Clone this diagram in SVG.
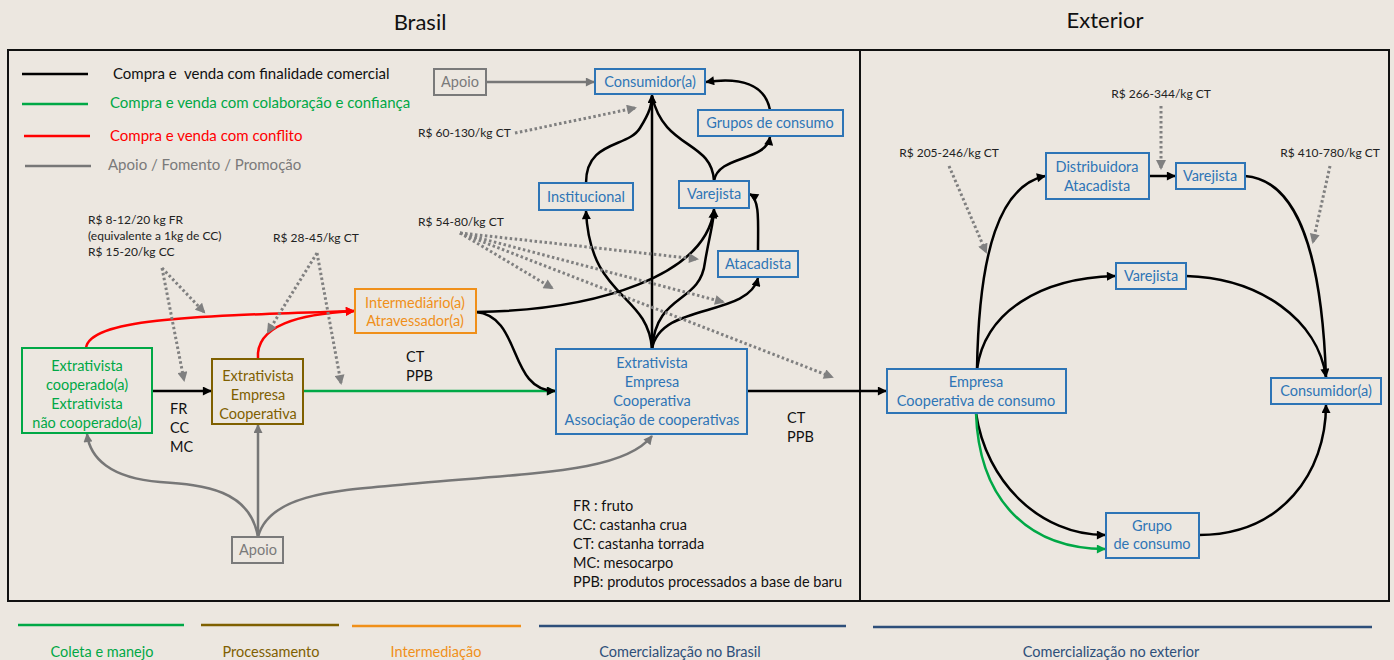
<svg xmlns="http://www.w3.org/2000/svg" width="1394" height="660" viewBox="0 0 1394 660">
  <defs>
    <style>
      text { font-family: Lato, "Open Sans", "Liberation Sans", sans-serif; }
      .title { font-size: 22px; fill: #111; text-anchor: middle; }
      .lbl { font-size: 14.5px; text-anchor: middle; }
      .blue { fill: #2e75b6; }
      .green { fill: #00a846; }
      .brown { fill: #7f6000; }
      .orange { fill: #f0901a; }
      .grey { fill: #7a7a7a; }
      .box { fill: none; stroke-width: 2; }
      .bbox { stroke: #2e75b6; }
      .note { font-size: 12px; fill: #222; }
      .abbr { font-size: 14.5px; fill: #111; }
      .frame { fill: none; stroke: #111; stroke-width: 2; }
      .k { fill: none; stroke: #000; stroke-width: 2.5; marker-end: url(#ak); }
      .kn { fill: none; stroke: #000; stroke-width: 2.5; }
      .g { fill: none; stroke: #00a846; stroke-width: 2.5; marker-end: url(#ag); }
      .r { fill: none; stroke: #ff0000; stroke-width: 2.5; marker-end: url(#ar); }
      .s { fill: none; stroke: #777; stroke-width: 2.5; marker-end: url(#as); }
      .d { fill: none; stroke: #808080; stroke-width: 3; stroke-dasharray: 2.5 2.5; marker-end: url(#ad); }
      .leg { font-size: 15px; }
      .band { font-size: 14.5px; text-anchor: middle; }
    </style>
    <marker id="ak" viewBox="0 0 10 10" refX="9" refY="5" markerWidth="11" markerHeight="9" markerUnits="userSpaceOnUse" orient="auto"><path d="M0,0 L10,5 L0,10 z" fill="#000"/></marker>
    <marker id="ag" viewBox="0 0 10 10" refX="9" refY="5" markerWidth="11" markerHeight="9" markerUnits="userSpaceOnUse" orient="auto"><path d="M0,0 L10,5 L0,10 z" fill="#00a846"/></marker>
    <marker id="ar" viewBox="0 0 10 10" refX="9" refY="5" markerWidth="11" markerHeight="9" markerUnits="userSpaceOnUse" orient="auto"><path d="M0,0 L10,5 L0,10 z" fill="#ff0000"/></marker>
    <marker id="as" viewBox="0 0 10 10" refX="9" refY="5" markerWidth="11" markerHeight="9" markerUnits="userSpaceOnUse" orient="auto"><path d="M0,0 L10,5 L0,10 z" fill="#777"/></marker>
    <marker id="ad" viewBox="0 0 10 10" refX="8" refY="5" markerWidth="11" markerHeight="10" markerUnits="userSpaceOnUse" orient="auto"><path d="M0,0 L10,5 L0,10 z" fill="#808080"/></marker>
  </defs>

  <!-- paper background -->
  <rect x="0" y="0" width="1394" height="660" fill="#ece7e0"/>

  <!-- section titles and frames -->
  <text class="title" x="420" y="30">Brasil</text>
  <text class="title" x="1105" y="28">Exterior</text>
  <rect class="frame" x="8" y="50" width="852" height="551"/>
  <rect class="frame" x="860" y="50" width="529" height="551"/>

  <!-- relationship legend -->
  <g id="legend">
    <line x1="22" y1="74" x2="88" y2="74" stroke="#000" stroke-width="2.5"/>
    <text class="leg" x="113" y="79" fill="#111" xml:space="preserve">Compra e  venda com finalidade comercial</text>
    <line x1="22" y1="104" x2="88" y2="104" stroke="#00a846" stroke-width="2.5"/>
    <text class="leg" x="110" y="108" fill="#00a846">Compra e venda com colaboração e confiança</text>
    <line x1="24" y1="136" x2="90" y2="136" stroke="#ff0000" stroke-width="2.5"/>
    <text class="leg" x="110" y="141" fill="#ff0000">Compra e venda com conflito</text>
    <line x1="25" y1="166" x2="91" y2="166" stroke="#777" stroke-width="2.5"/>
    <text class="leg" x="108" y="170" fill="#7a7a7a">Apoio / Fomento / Promoção</text>
  </g>

  <!-- connectors -->
  <g id="connectors">
    <!-- left chain -->
    <path class="k" d="M152,391 L211,391"/>
    <path class="g" d="M303,391 L555,391"/>
    <path class="r" d="M86,348 C90,318 200,316 354,311"/>
    <path class="r" d="M258,359 C255,325 300,314 354,311"/>
    <!-- intermediary outputs -->
    <path class="k" d="M476,312 C600,310 705,275 714,210"/>
    <path class="k" d="M476,312 C522,316 508,391 555,391"/>
    <!-- support -->
    <path class="s" d="M486,82 L594,82"/>
    <path class="s" d="M258,537 L258,425"/>
    <path class="s" d="M258,537 C250,490 205,485 160,482 C110,478 90,458 87,434"/>
    <path class="s" d="M258,537 C270,490 350,490 420,483 C550,472 625,470 652,436"/>
    <!-- domestic distribution -->
    <path class="k" d="M652,349 L652,95"/>
    <path class="k" d="M652,349 C648,292 590,300 586,211"/>
    <path class="k" d="M652,349 C656,292 700,305 705,262 C710,232 714,222 714,209"/>
    <path class="k" d="M652,349 C660,302 748,318 758,278"/>
    <path class="kn" d="M586,183 C586,140 628,148 640,128 C650,112 652,104 652,96"/>
    <path class="kn" d="M714,181 C712,140 664,150 652,96"/>
    <path class="k" d="M714,181 C718,155 766,162 770,137"/>
    <path class="k" d="M770,110 C765,84 740,77 706,82"/>
    <path class="k" d="M758,251 C758,222 760,200 750,194"/>
    <!-- export -->
    <path class="k" d="M747,391 L886,391"/>
    <path class="k" d="M977,369 C979,250 1000,186 1045,176"/>
    <path class="k" d="M1149,176 L1175,176"/>
    <path class="kn" d="M1245,176 C1300,180 1322,260 1326,377"/>
    <path class="k" d="M977,369 C985,312 1040,278 1115,276"/>
    <path class="k" d="M1186,276 C1260,278 1318,320 1326,377"/>
    <path class="k" d="M976,413 C986,482 1040,535 1105,535"/>
    <path class="g" d="M976,413 C979,502 1030,549 1105,549"/>
    <path class="k" d="M1199,535 C1282,535 1326,472 1326,405"/>
    <!-- price pointers -->
    <path class="d" d="M162,268 L204,312"/>
    <path class="d" d="M162,268 L184,380"/>
    <path class="d" d="M317,253 L268,332"/>
    <path class="d" d="M317,253 L341,383"/>
    <path class="d" d="M515,133 L635,108"/>
    <path class="d" d="M460,233 L552,288"/>
    <path class="d" d="M460,233 L697,259"/>
    <path class="d" d="M460,233 L723,302"/>
    <path class="d" d="M460,233 L832,377"/>
    <path class="d" d="M949,166 L986,252"/>
    <path class="d" d="M1161,106 L1161,168"/>
    <path class="d" d="M1330,166 L1313,242"/>
  </g>

  <!-- price labels -->
  <g id="prices">
    <text class="note" x="88" y="224">R$ 8-12/20 kg FR</text>
    <text class="note" x="88" y="240">(equivalente a 1kg de CC)</text>
    <text class="note" x="88" y="256">R$ 15-20/kg CC</text>
    <text class="note" x="273" y="242">R$ 28-45/kg CT</text>
    <text class="note" x="418" y="137">R$ 60-130/kg CT</text>
    <text class="note" x="418" y="226">R$ 54-80/kg CT</text>
    <text class="note" x="949" y="157" text-anchor="middle">R$ 205-246/kg CT</text>
    <text class="note" x="1161" y="98" text-anchor="middle">R$ 266-344/kg CT</text>
    <text class="note" x="1330" y="157" text-anchor="middle">R$ 410-780/kg CT</text>
  </g>

  <!-- product labels -->
  <g id="products">
    <text class="abbr" x="170" y="414">FR</text>
    <text class="abbr" x="170" y="433">CC</text>
    <text class="abbr" x="170" y="452">MC</text>
    <text class="abbr" x="406" y="362">CT</text>
    <text class="abbr" x="406" y="381">PPB</text>
    <text class="abbr" x="787" y="423">CT</text>
    <text class="abbr" x="787" y="442">PPB</text>
    <text class="abbr" x="573" y="511">FR : fruto</text>
    <text class="abbr" x="573" y="530">CC: castanha crua</text>
    <text class="abbr" x="573" y="549">CT: castanha torrada</text>
    <text class="abbr" x="573" y="568">MC: mesocarpo</text>
    <text class="abbr" x="573" y="587">PPB: produtos processados a base de baru</text>
  </g>

  <!-- nodes -->
  <g id="n-extrativistas">
    <rect class="box" x="22" y="348" width="130" height="85" stroke="#00a846"/>
    <text class="lbl green" x="87" y="371">Extrativista</text>
    <text class="lbl green" x="87" y="390">cooperado(a)</text>
    <text class="lbl green" x="87" y="409">Extrativista</text>
    <text class="lbl green" x="87" y="428">não cooperado(a)</text>
  </g>
  <g id="n-processamento">
    <rect class="box" x="212" y="359" width="91" height="65" stroke="#7f6000"/>
    <text class="lbl brown" x="258" y="381">Extrativista</text>
    <text class="lbl brown" x="258" y="400">Empresa</text>
    <text class="lbl brown" x="258" y="419">Cooperativa</text>
  </g>
  <g id="n-intermediario">
    <rect class="box" x="355" y="289" width="121" height="44" stroke="#f0901a"/>
    <text class="lbl orange" x="415" y="308">Intermediário(a)</text>
    <text class="lbl orange" x="415" y="326">Atravessador(a)</text>
  </g>
  <g id="n-associacao">
    <rect class="box bbox" x="556" y="349" width="191" height="85"/>
    <text class="lbl blue" x="652" y="368">Extrativista</text>
    <text class="lbl blue" x="652" y="387">Empresa</text>
    <text class="lbl blue" x="652" y="406">Cooperativa</text>
    <text class="lbl blue" x="652" y="425">Associação de cooperativas</text>
  </g>
  <g id="n-apoio-topo">
    <rect class="box" x="434" y="69" width="52" height="26" stroke="#7a7a7a"/>
    <text class="lbl grey" x="460" y="87">Apoio</text>
  </g>
  <g id="n-apoio-base">
    <rect class="box" x="232" y="537" width="51" height="26" stroke="#7a7a7a"/>
    <text class="lbl grey" x="258" y="555">Apoio</text>
  </g>
  <g id="n-consumidor-br">
    <rect class="box bbox" x="595" y="69" width="110" height="25"/>
    <text class="lbl blue" x="650" y="87">Consumidor(a)</text>
  </g>
  <g id="n-grupos-br">
    <rect class="box bbox" x="698" y="110" width="145" height="26"/>
    <text class="lbl blue" x="770" y="128">Grupos de consumo</text>
  </g>
  <g id="n-institucional">
    <rect class="box bbox" x="539" y="183" width="94" height="27"/>
    <text class="lbl blue" x="586" y="202">Institucional</text>
  </g>
  <g id="n-varejista-br">
    <rect class="box bbox" x="679" y="181" width="70" height="27"/>
    <text class="lbl blue" x="714" y="199">Varejista</text>
  </g>
  <g id="n-atacadista-br">
    <rect class="box bbox" x="718" y="251" width="80" height="26"/>
    <text class="lbl blue" x="758" y="269">Atacadista</text>
  </g>
  <g id="n-empresa-ext">
    <rect class="box bbox" x="887" y="369" width="179" height="44"/>
    <text class="lbl blue" x="976" y="387">Empresa</text>
    <text class="lbl blue" x="976" y="406">Cooperativa de consumo</text>
  </g>
  <g id="n-distribuidora">
    <rect class="box bbox" x="1046" y="153" width="103" height="46"/>
    <text class="lbl blue" x="1097" y="172">Distribuidora</text>
    <text class="lbl blue" x="1097" y="191">Atacadista</text>
  </g>
  <g id="n-varejista-ext1">
    <rect class="box bbox" x="1176" y="163" width="69" height="26"/>
    <text class="lbl blue" x="1210" y="181">Varejista</text>
  </g>
  <g id="n-varejista-ext2">
    <rect class="box bbox" x="1116" y="263" width="70" height="26"/>
    <text class="lbl blue" x="1151" y="281">Varejista</text>
  </g>
  <g id="n-consumidor-ext">
    <rect class="box bbox" x="1271" y="378" width="110" height="26"/>
    <text class="lbl blue" x="1326" y="396">Consumidor(a)</text>
  </g>
  <g id="n-grupo-ext">
    <rect class="box bbox" x="1106" y="513" width="93" height="45"/>
    <text class="lbl blue" x="1152" y="531">Grupo</text>
    <text class="lbl blue" x="1152" y="549">de consumo</text>
  </g>

  <!-- chain stage bands -->
  <g id="stages">
    <line x1="18" y1="625" x2="184" y2="625" stroke="#00a846" stroke-width="2.5"/>
    <text class="band" x="102" y="657" fill="#00a846">Coleta e manejo</text>
    <line x1="201" y1="625" x2="339" y2="625" stroke="#7f6000" stroke-width="2.5"/>
    <text class="band" x="271" y="657" fill="#7f6000">Processamento</text>
    <line x1="352" y1="626" x2="521" y2="626" stroke="#f0901a" stroke-width="2.5"/>
    <text class="band" x="436" y="657" fill="#f0901a">Intermediação</text>
    <line x1="539" y1="626" x2="846" y2="626" stroke="#2e4f7a" stroke-width="2.5"/>
    <text class="band" x="680" y="657" fill="#2e4f7a">Comercialização no Brasil</text>
    <line x1="873" y1="627" x2="1372" y2="627" stroke="#2e4f7a" stroke-width="2.5"/>
    <text class="band" x="1111" y="657" fill="#2e4f7a">Comercialização no exterior</text>
  </g>
</svg>
